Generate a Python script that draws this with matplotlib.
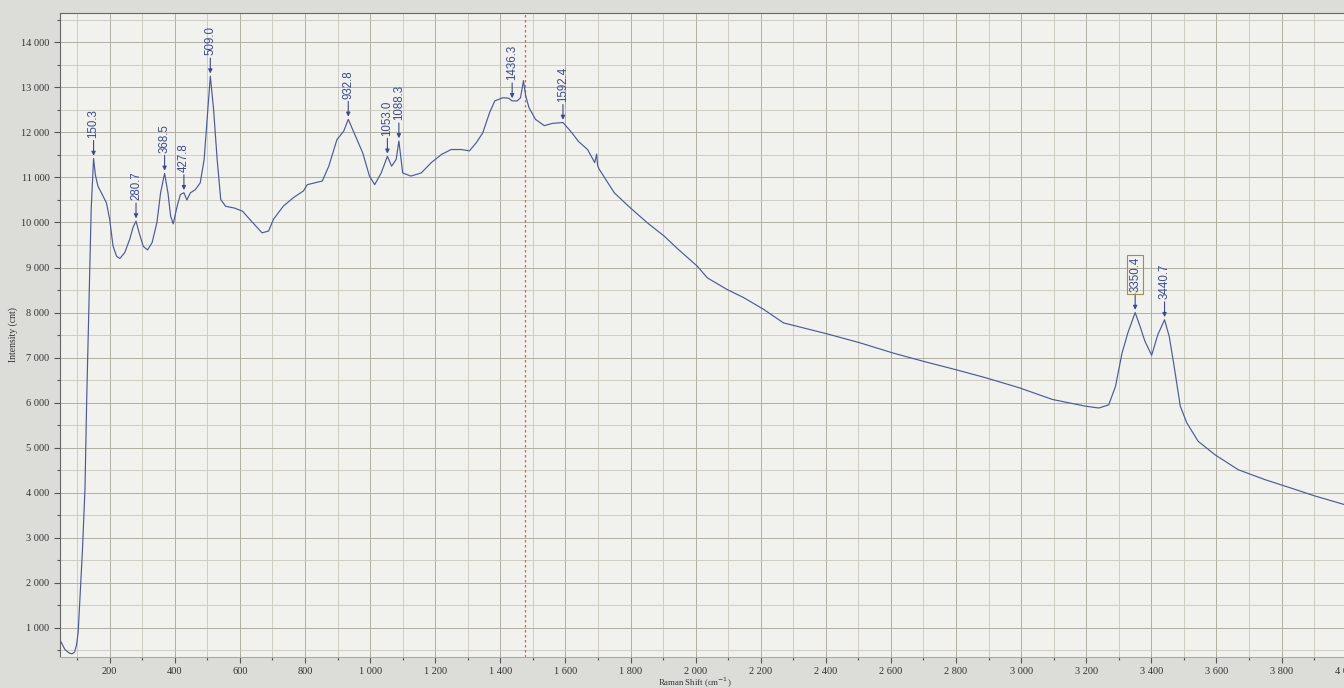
import numpy as np
import matplotlib.pyplot as plt
from matplotlib.ticker import MultipleLocator, FuncFormatter

# Raman spectrum
shift = [50, 62, 75, 84, 92, 98, 103, 108, 116, 124, 129, 134, 139, 143, 147, 150.3,
         156, 164, 175, 190, 200, 210, 221, 231, 246, 261, 272, 280.7, 290, 303, 316,
         330, 345, 356, 368.5, 379, 387, 395, 407, 417, 427.8, 437, 448, 463, 478, 490,
         499, 509, 519, 530, 541, 556, 583, 608, 635, 668, 688, 703, 733, 764, 795,
         807, 853, 873, 898, 919, 932.8, 955, 977, 998, 1014, 1034, 1053, 1066, 1080,
         1088.3, 1100, 1125, 1157, 1188, 1219, 1249, 1280, 1305, 1326, 1346, 1367, 1383,
         1408, 1425, 1436.3, 1452, 1462, 1471, 1478, 1488, 1508, 1535, 1560, 1592.4,
         1620, 1640, 1668, 1690, 1696, 1699, 1704, 1750, 1800, 1852, 1903, 1944, 2005,
         2036, 2097, 2148, 2209, 2270, 2331, 2402, 2504, 2607, 2698, 2800, 2892, 2994,
         3096, 3198, 3239, 3269, 3290, 3310, 3328, 3350.4, 3365, 3380, 3390, 3401,
         3420, 3440.7, 3455, 3470, 3489, 3509, 3544, 3596, 3667, 3749, 3830, 3901, 4010]
intensity = [690, 520, 440, 420, 460, 620, 900, 1600, 2700, 4100, 6000, 7500, 9000, 10300, 10900, 11420,
             11050, 10800, 10650, 10430, 10060, 9480, 9250, 9200, 9330, 9620, 9900, 10030, 9780, 9470, 9390,
             9550, 10000, 10650, 11090, 10650, 10140, 9970, 10360, 10620, 10660, 10500, 10660, 10730, 10880, 11400,
             12290, 13250, 12510, 11400, 10510, 10360, 10320, 10250, 10030, 9770, 9810, 10070, 10360, 10550, 10700,
             10840, 10920, 11250, 11840, 12030, 12290, 11920, 11550, 11030, 10840, 11100, 11470, 11250, 11400,
             11810, 11100, 11030, 11100, 11330, 11510, 11620, 11620, 11590, 11770, 11990, 12440, 12700,
             12770, 12760, 12700, 12700, 12770, 13150, 12810, 12550, 12290, 12150, 12200, 12220,
             11990, 11800, 11620, 11330, 11520, 11260, 11180, 10660, 10320, 9990, 9700, 9420, 9030,
             8770, 8510, 8330, 8070, 7770, 7660, 7530, 7330, 7100, 6920, 6730, 6550, 6330,
             6070, 5920, 5880, 5950, 6360, 7100, 7550, 8000, 7700, 7370, 7220, 7050,
             7510, 7840, 7470, 6810, 5920, 5550, 5140, 4840, 4510, 4290, 4100, 3930, 3700]

peak_labels = ['150.3', '280.7', '368.5', '427.8', '509.0', '932.8', '1053.0', '1088.3',
               '1436.3', '1592.4', '3350.4', '3440.7']
boxed_label = '3350.4'
cursor_shift = 1475

line_col = '#4d5a98'
text_col = '#3d4a8e'

fig = plt.figure(figsize=(13.44, 6.88), dpi=100, facecolor='#dcdcd8')
# plot runs off the right edge of the screenshot
ax = fig.add_axes([0.0446, 0.045, 0.9634, 0.936])
ax.set_facecolor('#f1f1ed')

ax.plot(shift, intensity, color=line_col, lw=0.85, zorder=3)
ax.axvline(cursor_shift, color='#e0603a', ls=(0, (2, 2)), lw=0.9, zorder=2)

for lab in peak_labels:
    px = float(lab)
    py = np.interp(px, shift, intensity) + 60
    box = None
    if lab == boxed_label:
        box = dict(boxstyle='square,pad=0.15', fc='none', ec='#9a9050', lw=0.8)
    ax.annotate(lab, xy=(px, py), xytext=(0, 13), textcoords='offset points',
                rotation=90, ha='center', va='bottom', fontsize=8.3,
                family='Liberation Sans', color=text_col, bbox=box,
                arrowprops=dict(arrowstyle='-|>', color=text_col, lw=0.8,
                                shrinkA=0, shrinkB=0, mutation_scale=6),
                zorder=4)

ax.set_xlim(47, 4025)
ax.set_ylim(350, 14650)

ax.xaxis.set_major_locator(MultipleLocator(200))
ax.xaxis.set_minor_locator(MultipleLocator(100))
ax.yaxis.set_major_locator(MultipleLocator(1000))
ax.yaxis.set_minor_locator(MultipleLocator(500))
fmt = FuncFormatter(lambda v, p: f'{int(v):,}'.replace(',', ' '))
ax.xaxis.set_major_formatter(fmt)
ax.yaxis.set_major_formatter(fmt)

ax.grid(which='major', color='#b0ada3', lw=0.7, zorder=1)
ax.grid(which='minor', color='#c9c6bd', lw=0.6, zorder=1)
ax.set_axisbelow(True)

ax.tick_params(which='both', direction='out', colors='#555555', labelsize=7.5,
               labelcolor='#333333')
ax.tick_params(which='major', length=4, width=0.8)
ax.tick_params(which='minor', length=2, width=0.8)
for t in ax.get_xticklabels() + ax.get_yticklabels():
    t.set_family('Liberation Serif')

for s in ['left', 'top']:
    ax.spines[s].set_color('#666666')
ax.spines['bottom'].set_color('#aaaaaa')
ax.spines['right'].set_visible(False)

ax.set_xlabel('Raman Shift (cm$^{-1}$)', family='Liberation Serif', fontsize=6.3, labelpad=0,
              color='#333333')
ax.xaxis.set_label_coords(0.49, -0.0295)
ax.set_ylabel('Intensity (cnt)', family='Liberation Serif', fontsize=7, labelpad=2,
              color='#333333')

fig.savefig('out.png', dpi=100, facecolor=fig.get_facecolor())
